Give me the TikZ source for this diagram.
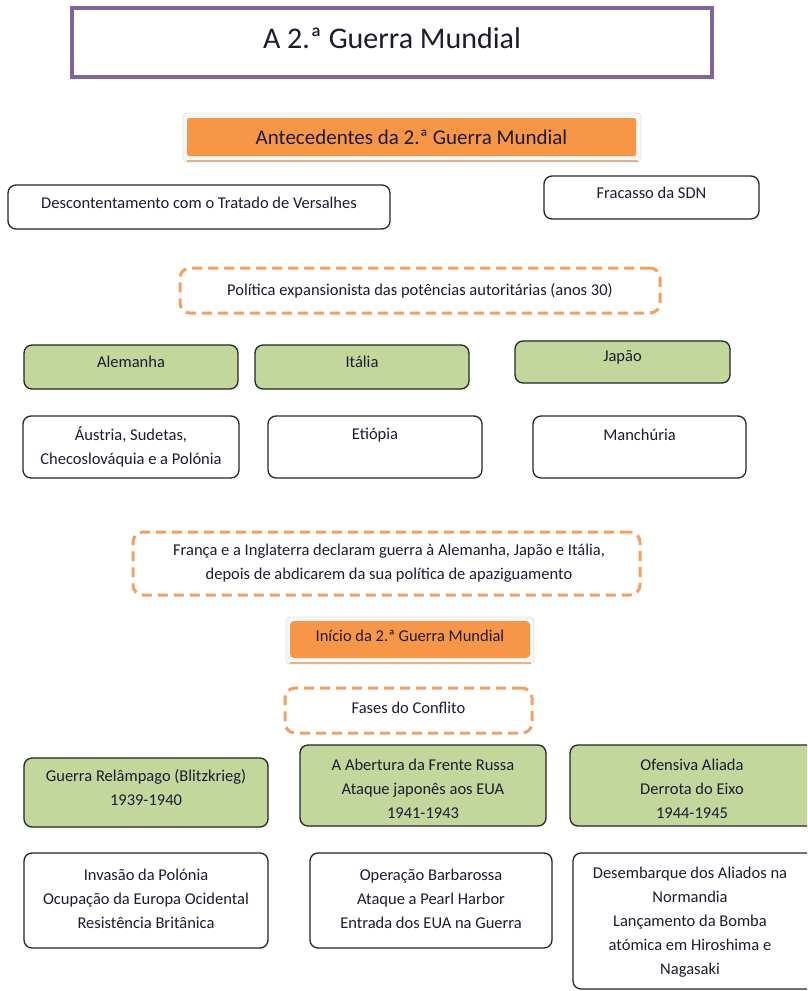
\documentclass[tikz,border=0pt]{standalone}
\usepackage{fontspec}
\setmainfont{Carlito}
\definecolor{ttl}{HTML}{8064A2}
\definecolor{org}{HTML}{F79646}
\definecolor{dorg}{HTML}{F5A060}
\definecolor{grn}{HTML}{C3D69B}
\definecolor{txt}{HTML}{1C1C30}
\definecolor{shd}{HTML}{D9B591}
\begin{document}
\begin{tikzpicture}[x=1pt,y=-1pt,
 every node/.style={inner sep=0pt, outer sep=0pt},
 txtn/.style={font=\fontsize{16.5}{24}\selectfont, text=txt, align=center},
 whitebox/.style={draw=black!85, line width=1.3pt, rounded corners=8pt, fill=white},
 greenbox/.style={whitebox, fill=grn},
 dashbox/.style={draw=dorg, line width=3pt, dash pattern=on 10pt off 6pt, rounded corners=10pt},
 orgbox/.style={fill=org, rounded corners=2pt},
 framebox/.style={fill=gray!6, draw=gray!22, line width=0.8pt, rounded corners=4pt}
]
\useasboundingbox (0,0) rectangle (807,991);
\clip (0,0) rectangle (807,991);
\fill[white] (0,0) rectangle (807,991);

% title
\node[draw=ttl, line width=4pt, fill=white, minimum width=640pt, minimum height=69pt] (title) at (392,42.5) {};
\node[font=\fontsize{30}{34}\selectfont, text=txt] (titleT) at (392,38) {A 2.ª Guerra Mundial};

% antecedentes
\node[framebox, minimum width=458pt, minimum height=49pt] (anteF) at (412,137.5) {};
\draw[shd, line width=2pt] (anteF.south west) ++(4,-1) -- ([xshift=-3pt,yshift=1pt]anteF.south east);
\node[orgbox, minimum width=449pt, minimum height=38pt] (ante) at (411.5,137) {};
\node[txtn, font=\fontsize{21}{24}\selectfont] (anteT) at (411.5,137) {Antecedentes da 2.ª Guerra Mundial};

% causes
\node[whitebox, minimum width=382pt, minimum height=44pt] (desc) at (199,207) {};
\node[txtn] (descT) at (199,203) {Descontentamento com o Tratado de Versalhes};
\node[whitebox, minimum width=215pt, minimum height=43pt] (sdn) at (651.5,197.5) {};
\node[txtn] (sdnT) at (651.5,193) {Fracasso da SDN};

\node[dashbox, minimum width=480pt, minimum height=45pt] (pol) at (420,290.5) {};
\node[txtn] (polT) at (420,291) {Política expansionista das potências autoritárias (anos 30)};

% countries
\node[greenbox, minimum width=214pt, minimum height=44pt] (ale) at (131,367) {};
\node[txtn] (aleT) at (131,362) {Alemanha};
\node[greenbox, minimum width=214pt, minimum height=44pt] (ita) at (362,367) {};
\node[txtn] (itaT) at (362,362) {Itália};
\node[greenbox, minimum width=215pt, minimum height=42pt] (jap) at (622.5,362) {};
\node[txtn] (japT) at (622.5,357) {Japão};

\node[whitebox, minimum width=216pt, minimum height=62pt] (aus) at (131,447) {};
\node[txtn] (ausT) at (131,447) {Áustria, Sudetas,\\Checoslováquia e a Polónia};
\node[whitebox, minimum width=214pt, minimum height=62pt] (eti) at (375,447) {};
\node[txtn] (etiT) at (375,435) {Etiópia};
\node[whitebox, minimum width=213pt, minimum height=62pt] (man) at (639.5,447) {};
\node[txtn] (manT) at (639.5,435) {Manchúria};

% declaration
\node[dashbox, minimum width=507pt, minimum height=63pt] (fra) at (386.5,563.5) {};
\node[txtn] (fraT) at (389,563.5) {França e a Inglaterra declaram guerra à Alemanha, Japão e Itália,\\depois de abdicarem da sua política de apaziguamento};

% inicio
\node[framebox, minimum width=248pt, minimum height=47pt] (iniF) at (410,640.5) {};
\draw[shd, line width=2pt] (iniF.south west) ++(4,-1) -- ([xshift=-3pt,yshift=1pt]iniF.south east);
\node[orgbox, rounded corners=4pt, minimum width=240pt, minimum height=37pt] (ini) at (410,639.5) {};
\node[txtn] (iniT) at (410,636) {Início da 2.ª Guerra Mundial};

\node[dashbox, minimum width=247pt, minimum height=45pt] (fas) at (408.5,710.5) {};
\node[txtn] (fasT) at (408.5,708) {Fases do Conflito};

% phases
\node[greenbox, minimum width=244pt, minimum height=69pt] (p1) at (146,792.5) {};
\node[txtn] (p1T) at (146,788) {Guerra Relâmpago (Blitzkrieg)\\1939-1940};
\node[greenbox, minimum width=246pt, minimum height=81pt] (p2) at (423,785.5) {};
\node[txtn] (p2T) at (423,789) {A Abertura da Frente Russa\\Ataque japonês aos EUA\\1941-1943};
\node[greenbox, minimum width=245pt, minimum height=81pt] (p3) at (692.5,785.5) {};
\node[txtn] (p3T) at (692,789) {Ofensiva Aliada\\Derrota do Eixo\\1944-1945};

\node[whitebox, minimum width=244pt, minimum height=95pt] (e1) at (146,900.5) {};
\node[txtn] (e1T) at (146,899) {Invasão da Polónia\\Ocupação da Europa Ocidental\\Resistência Britânica};
\node[whitebox, minimum width=242pt, minimum height=95pt] (e2) at (431,900.5) {};
\node[txtn] (e2T) at (431,899) {Operação Barbarossa\\Ataque a Pearl Harbor\\Entrada dos EUA na Guerra};
\node[whitebox, minimum width=245pt, minimum height=136pt] (e3) at (695.5,921) {};
\node[txtn] (e3T) at (690,922) {Desembarque dos Aliados na\\Normandia\\Lançamento da Bomba\\atómica em Hiroshima e\\Nagasaki};
\end{tikzpicture}
\end{document}
